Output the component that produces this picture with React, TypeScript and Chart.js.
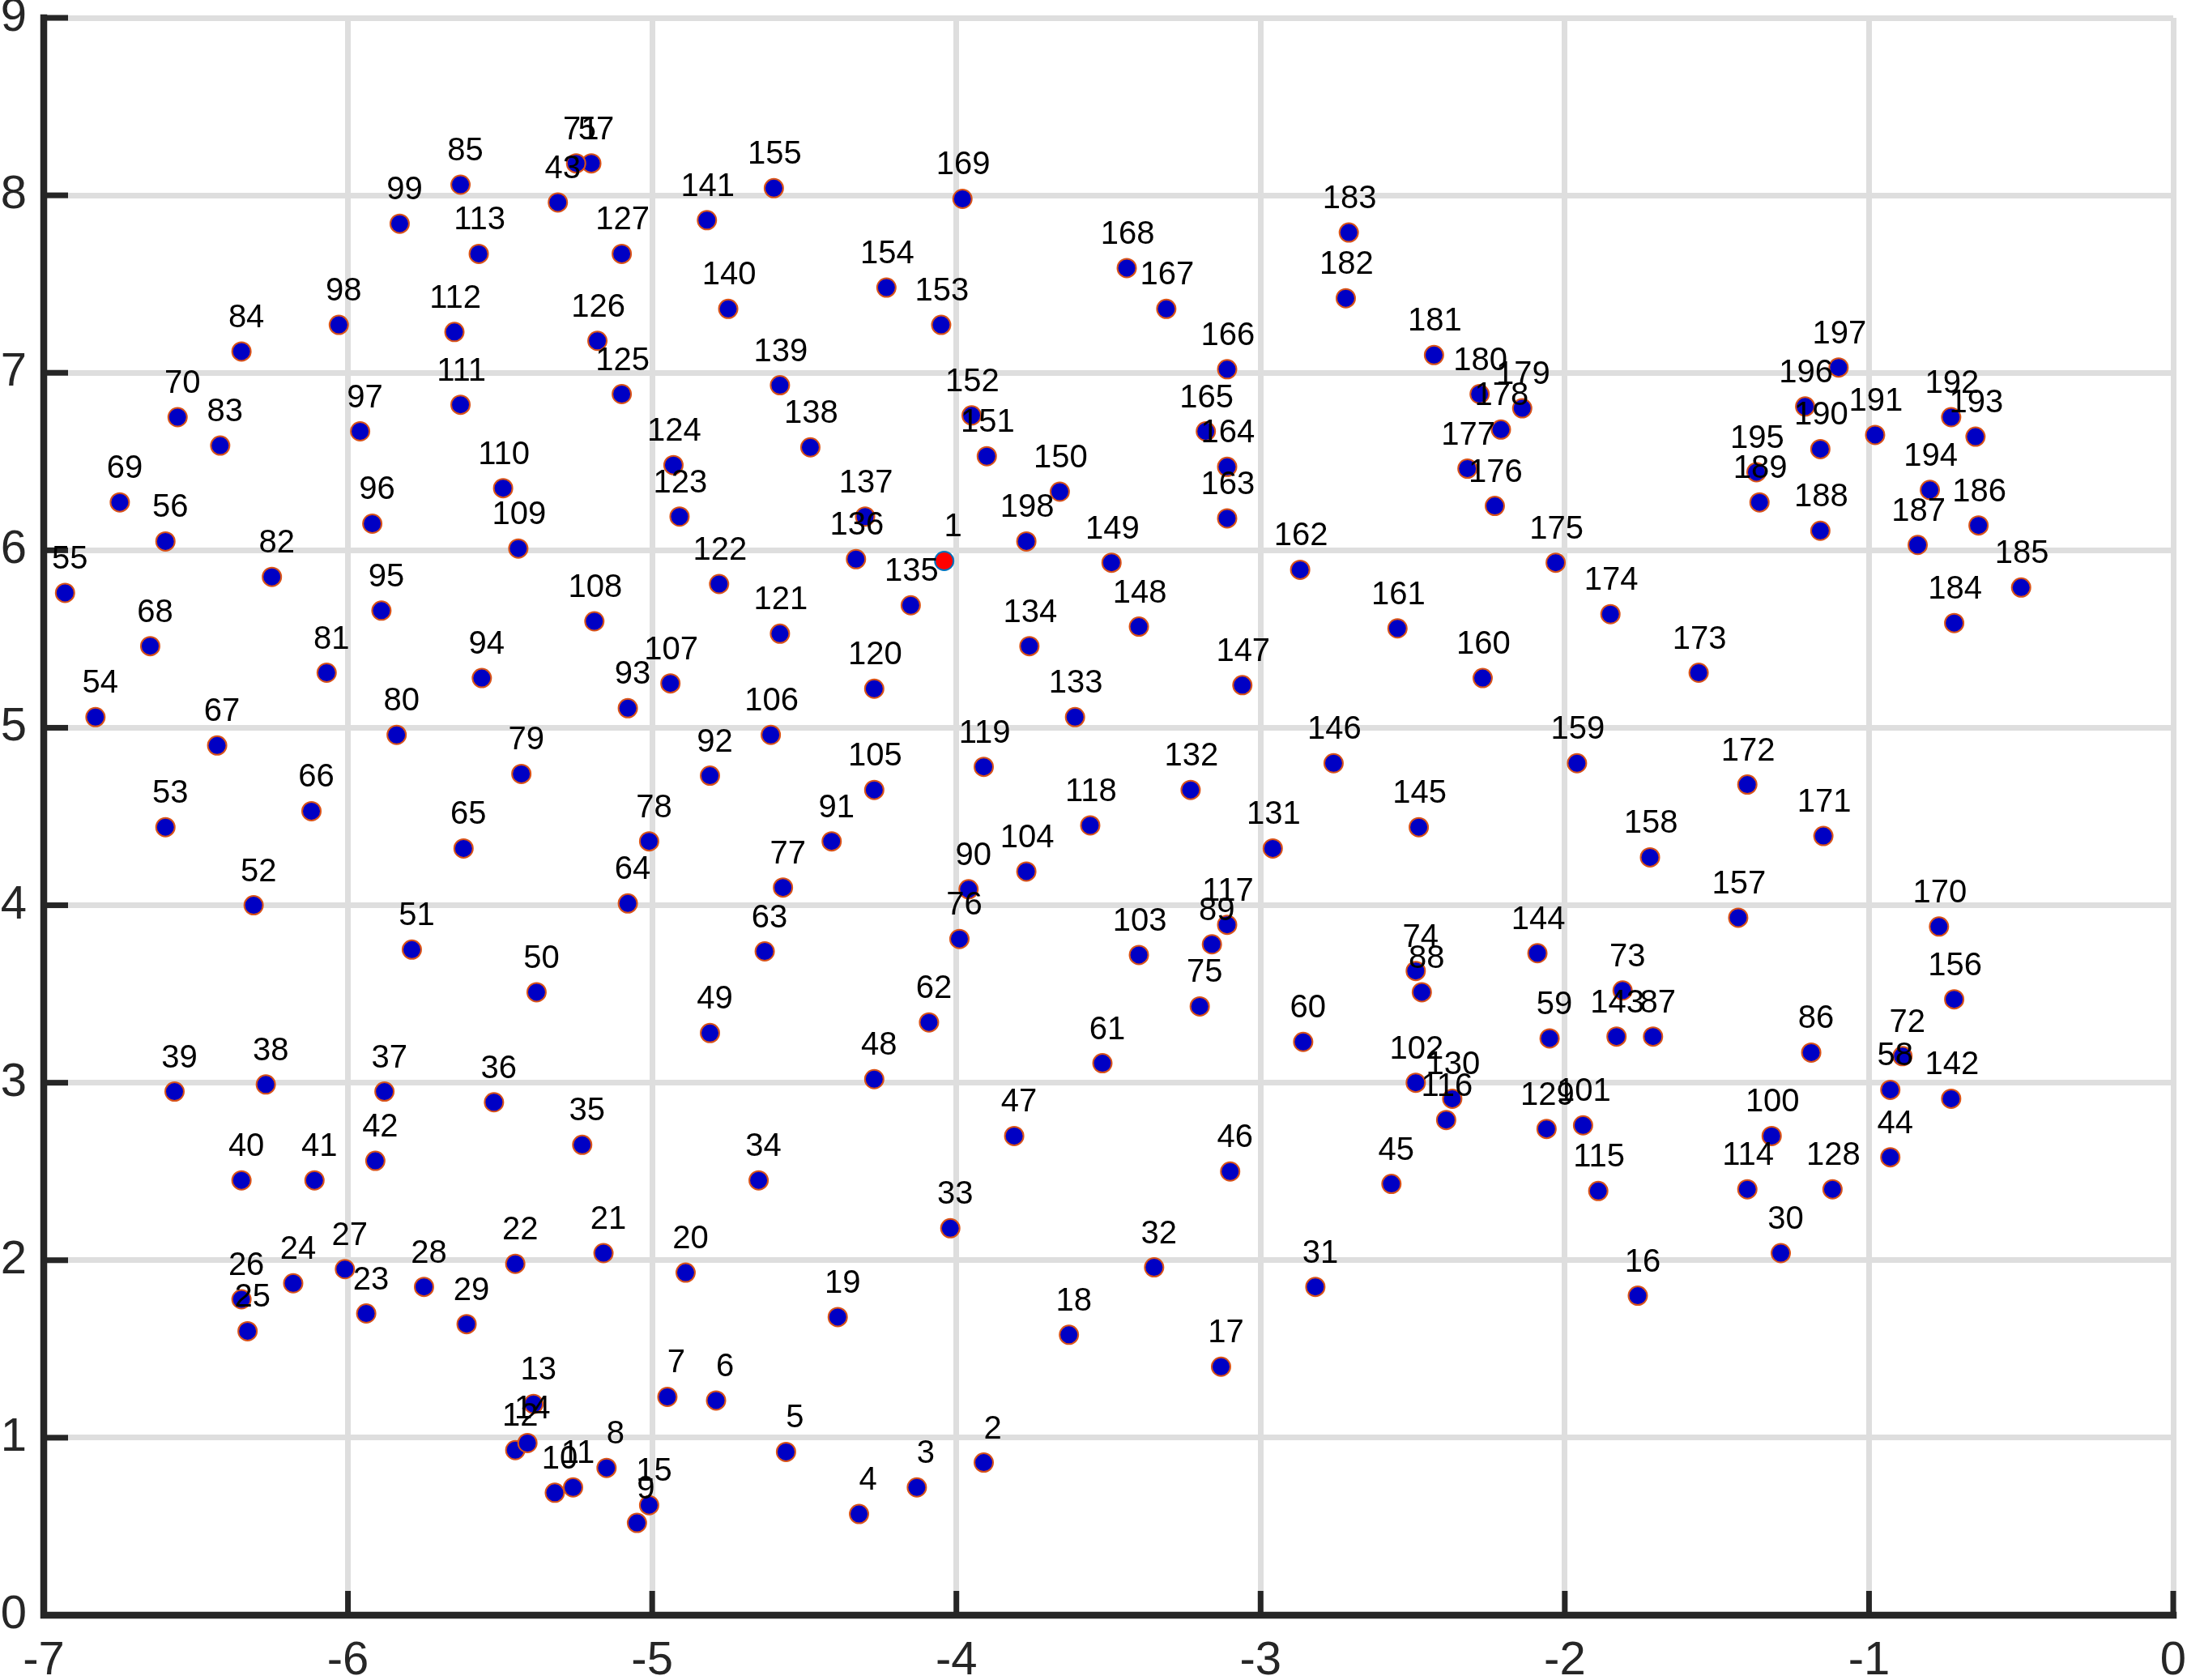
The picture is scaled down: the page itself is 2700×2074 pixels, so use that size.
import { useEffect, useRef } from 'react';
import { Chart, registerables } from 'chart.js';

Chart.register(...registerables);

// x coordinate of every point, in point order 1..198
const xValues = [
  -4.04, -3.91, -4.13, -4.32, -4.56, -4.79, -4.95, -5.15, -5.05, -5.32,
  -5.26, -5.45, -5.39, -5.41, -5.01, -1.76, -3.13, -3.63, -4.39, -4.89,
  -5.16, -5.45, -5.94, -6.18, -6.33, -6.35, -6.01, -5.75, -5.61, -1.29,
  -2.82, -3.35, -4.02, -4.65, -5.23, -5.52, -5.88, -6.27, -6.57, -6.35,
  -6.11, -5.91, -5.31, -0.93, -2.57, -3.10, -3.81, -4.27, -4.81, -5.38,
  -5.79, -6.31, -6.60, -6.83, -6.93, -6.60, -5.20, -0.93, -2.05, -2.86,
  -3.52, -4.09, -4.63, -5.08, -5.62, -6.12, -6.43, -6.65, -6.75, -6.56,
  -5.25, -0.89, -1.81, -2.49, -3.20, -3.99, -4.57, -5.01, -5.43, -5.84,
  -6.07, -6.25, -6.42, -6.35, -5.63, -1.19, -1.71, -2.47, -3.16, -3.96,
  -4.41, -4.81, -5.08, -5.56, -5.89, -5.92, -5.96, -6.03, -5.83, -1.32,
  -1.94, -2.49, -3.40, -3.77, -4.27, -4.61, -4.94, -5.19, -5.44, -5.49,
  -5.63, -5.65, -5.57, -1.40, -1.89, -2.39, -3.11, -3.56, -3.91, -4.27,
  -4.58, -4.78, -4.91, -4.93, -5.10, -5.18, -5.10, -1.12, -2.06, -2.37,
  -2.96, -3.23, -3.61, -3.76, -4.15, -4.33, -4.30, -4.48, -4.58, -4.75,
  -4.82, -0.73, -1.83, -2.09, -2.48, -2.76, -3.06, -3.40, -3.49, -3.66,
  -3.90, -3.95, -4.05, -4.23, -4.60, -0.72, -1.43, -1.72, -1.96, -2.27,
  -2.55, -2.87, -3.11, -3.11, -3.18, -3.11, -3.31, -3.44, -3.98, -0.77,
  -1.15, -1.40, -1.56, -1.85, -2.03, -2.23, -2.32, -2.21, -2.14, -2.28,
  -2.43, -2.72, -2.71, -0.72, -0.50, -0.64, -0.84, -1.16, -1.36, -1.16,
  -0.98, -0.73, -0.65, -0.80, -1.37, -1.21, -1.10, -3.77,
];

// y coordinate of every point, in point order 1..198
const yValues = [
  5.94, 0.86, 0.72, 0.57, 0.92, 1.21, 1.23, 0.83, 0.52, 0.69,
  0.72, 0.93, 1.19, 0.97, 0.62, 1.80, 1.40, 1.58, 1.68, 1.93,
  2.04, 1.98, 1.70, 1.87, 1.60, 1.78, 1.95, 1.85, 1.64, 2.04,
  1.85, 1.96, 2.18, 2.45, 2.65, 2.89, 2.95, 2.99, 2.95, 2.45,
  2.45, 2.56, 7.96, 2.58, 2.43, 2.50, 2.70, 3.02, 3.28, 3.51,
  3.75, 4.00, 4.44, 5.06, 5.76, 6.05, 8.18, 2.96, 3.25, 3.23,
  3.11, 3.34, 3.74, 4.01, 4.32, 4.53, 4.90, 5.46, 6.27, 6.75,
  8.18, 3.15, 3.52, 3.63, 3.43, 3.81, 4.10, 4.36, 4.74, 4.96,
  5.31, 5.85, 6.59, 7.12, 8.06, 3.17, 3.26, 3.51, 3.78, 4.09,
  4.36, 4.73, 5.11, 5.28, 5.66, 6.15, 6.67, 7.27, 7.84, 2.70,
  2.76, 3.00, 3.72, 4.19, 4.65, 4.96, 5.25, 5.60, 6.01, 6.35,
  6.82, 7.23, 7.67, 2.40, 2.39, 2.79, 3.89, 4.45, 4.78, 5.22,
  5.53, 5.81, 6.19, 6.48, 6.88, 7.18, 7.67, 2.40, 2.74, 2.91,
  4.32, 4.65, 5.06, 5.46, 5.69, 5.95, 6.19, 6.58, 6.93, 7.36,
  7.86, 2.91, 3.26, 3.73, 4.44, 4.80, 5.24, 5.57, 5.93, 6.33,
  6.53, 6.76, 7.27, 7.48, 8.04, 3.47, 3.93, 4.27, 4.80, 5.28,
  5.56, 5.89, 6.18, 6.47, 6.67, 7.02, 7.36, 7.59, 7.98, 3.88,
  4.39, 4.68, 5.31, 5.64, 5.93, 6.25, 6.46, 6.68, 6.80, 6.88,
  7.10, 7.42, 7.79, 5.59, 5.79, 6.14, 6.03, 6.11, 6.27, 6.57,
  6.65, 6.75, 6.64, 6.34, 6.44, 6.81, 7.03, 6.05,
];

// the point drawn in red
const highlightedIds = [1];

const xTicks = [-7, -6, -5, -4, -3, -2, -1, 0];
const xTickLabels = ['-7', '-6', '-5', '-4', '-3', '-2', '-1', '0'];
const yTicks = [0, 1, 2, 3, 4, 5, 6, 7, 8, 9];
const yTickLabels = ['0', '1', '2', '3', '4', '5', '6', '7', '8', '9'];

const pointIds = xValues.map((_, i) => i + 1);

const FONT = "'Liberation Sans', Arial, Helvetica, sans-serif";
const AXIS_COLOR = '#262626';

export default function App() {
  const canvasRef = useRef<HTMLCanvasElement | null>(null);

  useEffect(() => {
    const canvas = canvasRef.current;
    if (!canvas) return;

    const normalPts = pointIds
      .filter((id) => !highlightedIds.includes(id))
      .map((id) => ({ x: xValues[id - 1], y: yValues[id - 1], id }));
    const redPts = highlightedIds.map((id) => ({ x: xValues[id - 1], y: yValues[id - 1], id }));

    const axesPlugin = {
      id: 'matlabAxes',
      beforeDatasetsDraw(chart: any) {
        const { ctx, chartArea, scales } = chart;
        const xs = scales.x;
        const ys = scales.y;
        ctx.save();
        ctx.strokeStyle = AXIS_COLOR;
        ctx.lineWidth = 7;
        ctx.lineCap = 'butt';
        const tl = 30;
        xTicks.forEach((v) => {
          const px = xs.getPixelForValue(v);
          ctx.beginPath();
          ctx.moveTo(px, chartArea.bottom);
          ctx.lineTo(px, chartArea.bottom - tl);
          ctx.stroke();
        });
        yTicks.forEach((v) => {
          const py = ys.getPixelForValue(v);
          ctx.beginPath();
          ctx.moveTo(chartArea.left, py);
          ctx.lineTo(chartArea.left + tl, py);
          ctx.stroke();
        });
        ctx.lineWidth = 8.5;
        ctx.lineCap = 'square';
        ctx.lineJoin = 'miter';
        ctx.beginPath();
        ctx.moveTo(chartArea.left, chartArea.top);
        ctx.lineTo(chartArea.left, chartArea.bottom);
        ctx.lineTo(chartArea.right, chartArea.bottom);
        ctx.stroke();
        ctx.restore();
      },
    };

    const labelPlugin = {
      id: 'pointLabels',
      afterDatasetsDraw(chart: any) {
        const { ctx } = chart;
        const items: { id: number; x: number; y: number }[] = [];
        chart.data.datasets.forEach((ds: any, di: number) => {
          const meta = chart.getDatasetMeta(di);
          meta.data.forEach((el: any, i: number) => {
            items.push({ id: ds.data[i].id, x: el.x, y: el.y });
          });
        });
        items.sort((a, b) => a.id - b.id);
        ctx.save();
        ctx.fillStyle = '#000000';
        ctx.font = `40px ${FONT}`;
        ctx.textAlign = 'center';
        ctx.textBaseline = 'alphabetic';
        items.forEach((it) => {
          const s = String(it.id);
          const dx = 16 - 5 * s.length;
          ctx.fillText(s, it.x + dx, it.y - 30);
        });
        ctx.restore();
      },
    };

    const chart = new Chart(canvas, {
      type: 'scatter',
      data: {
        datasets: [
          {
            data: normalPts,
            backgroundColor: '#0000c4',
            borderColor: '#d95319',
            borderWidth: 2,
            pointRadius: 11.5,
            pointHoverRadius: 11.5,
          },
          {
            data: redPts,
            backgroundColor: '#ff0000',
            borderColor: '#0072bd',
            borderWidth: 2,
            pointRadius: 11.5,
            pointHoverRadius: 11.5,
          },
        ],
      },
      options: {
        responsive: false,
        animation: false,
        devicePixelRatio: 1,
        layout: { padding: { top: 22, right: 17, left: 0, bottom: 0 } },
        plugins: {
          legend: { display: false },
          tooltip: { enabled: false },
        },
        scales: {
          x: {
            type: 'linear',
            min: -7,
            max: 0,
            afterBuildTicks: (scale: any) => {
              scale.ticks = xTicks.map((v) => ({ value: v }));
            },
            afterFit: (scale: any) => {
              scale.height = 80;
              scale.paddingLeft = 0;
              scale.paddingRight = 0;
            },
            grid: { color: '#dedede', lineWidth: 7, drawTicks: false },
            border: { display: false },
            ticks: {
              autoSkip: false,
              maxRotation: 0,
              padding: 22,
              color: AXIS_COLOR,
              font: { family: FONT, size: 58 },
              callback: (v: any) => {
                const i = xTicks.indexOf(Number(v));
                return i >= 0 ? xTickLabels[i] : '';
              },
            },
          },
          y: {
            type: 'linear',
            min: 0,
            max: 9,
            afterBuildTicks: (scale: any) => {
              scale.ticks = yTicks.map((v) => ({ value: v }));
            },
            afterFit: (scale: any) => {
              scale.width = 54;
              scale.paddingTop = 0;
              scale.paddingBottom = 0;
            },
            grid: { color: '#dedede', lineWidth: 7, drawTicks: false },
            border: { display: false },
            ticks: {
              autoSkip: false,
              padding: 21,
              color: AXIS_COLOR,
              font: { family: FONT, size: 58 },
              callback: (v: any) => {
                const i = yTicks.indexOf(Number(v));
                return i >= 0 ? yTickLabels[i] : '';
              },
            },
          },
        },
      },
      plugins: [axesPlugin, labelPlugin],
    });

    return () => {
      chart.destroy();
    };
  }, []);

  return (
    <div style={{ position: 'fixed', left: 0, top: 0, width: 2700, height: 2074, background: '#ffffff' }}>
      <canvas ref={canvasRef} width={2700} height={2074} style={{ display: 'block', width: 2700, height: 2074 }} />
    </div>
  );
}
